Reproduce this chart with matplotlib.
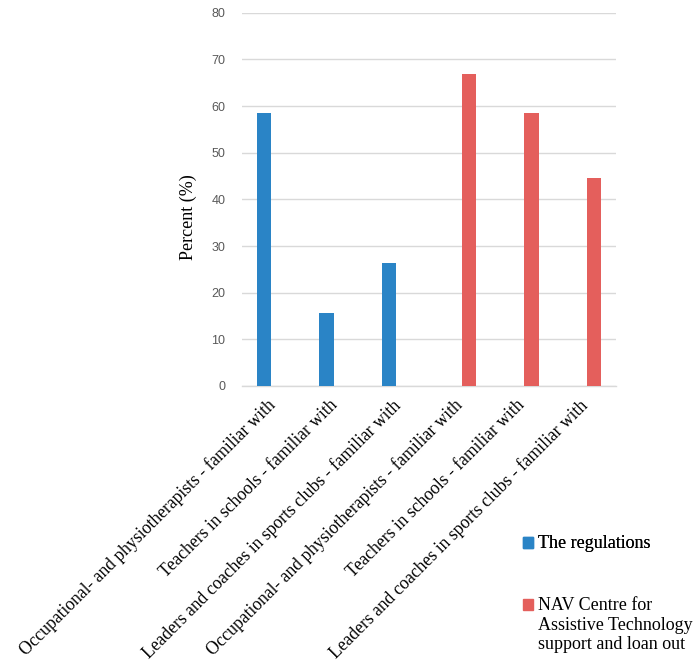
import numpy as np
import matplotlib
matplotlib.use("Agg")
import matplotlib.pyplot as plt
from matplotlib.patches import Patch, Rectangle
from matplotlib.legend_handler import HandlerPatch

categories = [
    "Occupational- and physiotherapists - familiar with",
    "Teachers in schools - familiar with",
    "Leaders and coaches in sports clubs - familiar with",
    "Occupational- and physiotherapists - familiar with",
    "Teachers in schools - familiar with",
    "Leaders and coaches in sports clubs - familiar with",
]
series_names = ["The regulations",
                "NAV Centre for\nAssistive Technology\nsupport and loan out"]
regulations = [58.4, 15.6, 26.3, np.nan, np.nan, np.nan]
nav_centre = [np.nan, np.nan, np.nan, 66.9, 58.6, 44.6]
yticks = [0, 10, 20, 30, 40, 50, 60, 70, 80]

blue = "#2A84C6"
red = "#E45F5C"
serif = "Liberation Serif"


class ShiftedHandler(HandlerPatch):
    def __init__(self, dy=0, **kw):
        super().__init__(**kw)
        self.dy = dy

    def create_artists(self, legend, orig_handle, xdescent, ydescent,
                       width, height, fontsize, trans):
        p = Rectangle((-xdescent, -ydescent + self.dy), width, height)
        self.update_prop(p, orig_handle, legend)
        p.set_transform(trans)
        return [p]


fig = plt.figure(figsize=(6.96, 6.68), dpi=100)
ax = fig.add_axes([242/696, 1-386/668, (616-242)/696, (386-12.7)/668])

x = np.arange(len(categories))
w = 0.23
off = 0.145
ax.bar(x - off, regulations, width=w, color=blue, zorder=3)
ax.bar(x + off, nav_centre, width=w, color=red, zorder=3)

ax.set_xlim(-0.5, len(categories) - 0.5)
ax.set_ylim(0, 80)
ax.set_yticks(yticks)
ax.yaxis.grid(True, color="#D9D9D9", linewidth=1, zorder=0)
ax.tick_params(axis="y", length=0, pad=12, labelsize=9, labelcolor="#595959")
for lab in ax.get_yticklabels():
    lab.set_family("Liberation Sans")
for s in ["top", "right", "left"]:
    ax.spines[s].set_visible(False)
ax.spines["bottom"].set_color("#D9D9D9")
ax.spines["bottom"].set_linewidth(1)

ax.set_xticks(x)
ax.set_xticklabels(categories, rotation=45, ha="right", va="center",
                   rotation_mode="anchor", fontsize=12.7, family=serif)
ax.tick_params(axis="x", length=0, pad=12)

ax.set_ylabel("Percent (%)", fontsize=13, family=serif)
ax.yaxis.set_label_coords(-0.12, 0.453)

common = dict(frameon=False, prop={"family": serif, "size": 13},
              handlelength=0.55, handleheight=0.55, handletextpad=0.3,
              borderpad=0, borderaxespad=0)
leg1 = fig.legend(handles=[Patch(color=blue)], labels=[series_names[0]],
                  loc="center left", bbox_to_anchor=(523/696, 1-544/668),
                  **common)
leg2 = fig.legend(handles=[Patch(color=red)], labels=[series_names[1]],
                  loc="upper left", bbox_to_anchor=(523/696, 1-597/668),
                  handler_map={Patch: ShiftedHandler(dy=15.0)}, **common)
fig.add_artist(leg1)

fig.savefig("out.png", dpi=100)
